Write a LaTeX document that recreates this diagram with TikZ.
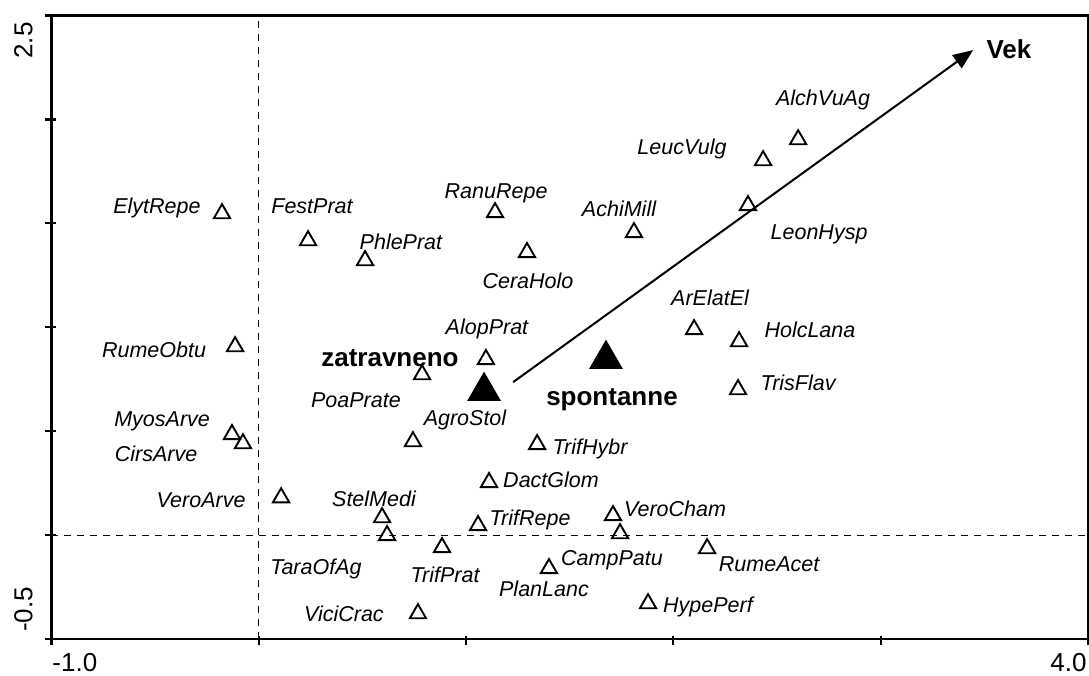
\documentclass[tikz,border=0pt]{standalone}
\usepackage{fontspec}
\setmainfont{Liberation Sans}
\usepackage{tikz}
\usetikzlibrary{shapes.geometric, arrows.meta}
\tikzstyle{vecarrow} = [line width=1pt,-{Triangle[length=10pt,width=8pt]}]

\begin{document}
\begin{tikzpicture}[
    x=103.65pt, y=103.9pt,
    spec/.style={regular polygon, regular polygon sides=3, draw, line width=0.95pt, inner sep=0pt, minimum size=9.4pt, yshift=-1.2pt},
    env/.style={regular polygon, regular polygon sides=3, fill=black, inner sep=0pt, minimum size=19.5pt, yshift=-2.5pt},
    lab/.style={font=\fontsize{10.75}{12}\selectfont\itshape, inner sep=0pt, text height=7.7pt, text depth=0pt},
    envlab/.style={font=\fontsize{13}{15}\selectfont\bfseries, inner sep=0pt, text height=9.3pt, text depth=0pt},
    axlab/.style={font=\fontsize{13}{15}\selectfont, inner sep=0pt},
    zeroline/.style={line width=0.5pt, dash pattern=on 3.5pt off 3pt}
  ]
  \useasboundingbox (-1.248,-0.674) rectangle (4.005,2.575);

  \draw[zeroline] (0,-0.5) -- (0,2.5);
  \draw[zeroline] (-1,0) -- (4,0);
  \draw[line width=1.1pt] (-1,-0.5) rectangle (4,2.5);
  \foreach \t in {-0.5,0,...,2.5} \draw[line width=1.1pt] (-1.03,\t) -- (-0.98,\t);
  \foreach \t in {-1,0,...,4} \draw[line width=1.1pt] (\t,-0.53) -- (\t,-0.485);

  \node[axlab, rotate=90, anchor=east] (y-top) at (-1.135,2.469) {2.5};
  \node[axlab, rotate=90, anchor=west] (y-bot) at (-1.135,-0.467) {-0.5};
  \node[axlab, anchor=west] (x-left) at (-0.997,-0.612) {-1.0};
  \node[axlab, anchor=east] (x-right) at (3.995,-0.612) {4.0};

  \node[spec] (ElytRepe) at (-0.177,1.559) {};
  \node[spec] (FestPrat) at (0.238,1.429) {};
  \node[spec] (PhlePrat) at (0.513,1.333) {};
  \node[spec] (RanuRepe) at (1.140,1.564) {};
  \node[spec] (AchiMill) at (1.810,1.468) {};
  \node[spec] (CeraHolo) at (1.294,1.372) {};
  \node[spec] (LeucVulg) at (2.433,1.814) {};
  \node[spec] (AlchVuAg) at (2.602,1.915) {};
  \node[spec] (LeonHysp) at (2.360,1.598) {};
  \node[spec] (ArElatEl) at (2.100,1.001) {};
  \node[spec] (HolcLana) at (2.317,0.943) {};
  \node[spec] (TrisFlav) at (2.312,0.712) {};
  \node[spec] (AlopPrat) at (1.096,0.857) {};
  \node[spec] (PoaPrate) at (0.788,0.784) {};
  \node[spec] (AgroStol) at (0.744,0.462) {};
  \node[spec] (RumeObtu) at (-0.114,0.919) {};
  \node[spec] (MyosArve) at (-0.129,0.496) {};
  \node[spec] (CirsArve) at (-0.076,0.452) {};
  \node[spec] (VeroArve) at (0.108,0.192) {};
  \node[spec] (StelMedi) at (0.595,0.096) {};
  \node[spec] (TaraOfAg) at (0.619,0.010) {};
  \node[spec] (TrifPrat) at (0.884,-0.048) {};
  \node[spec] (TrifRepe) at (1.058,0.058) {};
  \node[spec] (DactGlom) at (1.111,0.265) {};
  \node[spec] (PlanLanc) at (1.400,-0.149) {};
  \node[spec] (ViciCrac) at (0.768,-0.366) {};
  \node[spec] (VeroCham) at (1.709,0.106) {};
  \node[spec] (CampPatu) at (1.743,0.019) {};
  \node[spec] (RumeAcet) at (2.163,-0.053) {};
  \node[spec] (HypePerf) at (1.878,-0.318) {};
  \node[spec] (TrifHybr) at (1.343,0.448) {};

  \node[lab] (ElytRepe-l) at (-0.491,1.583) {ElytRepe};
  \node[lab] (FestPrat-l) at (0.257,1.583) {FestPrat};
  \node[lab] (PhlePrat-l) at (0.686,1.410) {PhlePrat};
  \node[lab] (RanuRepe-l) at (1.145,1.655) {RanuRepe};
  \node[lab] (AchiMill-l) at (1.738,1.569) {AchiMill};
  \node[lab] (CeraHolo-l) at (1.299,1.222) {CeraHolo};
  \node[lab] (LeucVulg-l) at (2.042,1.867) {LeucVulg};
  \node[lab] (AlchVuAg-l) at (2.722,2.103) {AlchVuAg};
  \node[lab] (LeonHysp-l) at (2.703,1.458) {LeonHysp};
  \node[lab] (ArElatEl-l) at (2.177,1.141) {ArElatEl};
  \node[lab] (HolcLana-l) at (2.659,0.987) {HolcLana};
  \node[lab] (TrisFlav-l) at (2.602,0.731) {TrisFlav};
  \node[lab] (AlopPrat-l) at (1.101,1.001) {AlopPrat};
  \node[lab] (PoaPrate-l) at (0.469,0.650) {PoaPrate};
  \node[lab] (AgroStol-l) at (0.995,0.563) {AgroStol};
  \node[lab] (RumeObtu-l) at (-0.505,0.890) {RumeObtu};
  \node[lab] (MyosArve-l) at (-0.466,0.558) {MyosArve};
  \node[lab] (CirsArve-l) at (-0.495,0.390) {CirsArve};
  \node[lab] (VeroArve-l) at (-0.278,0.168) {VeroArve};
  \node[lab] (StelMedi-l) at (0.556,0.173) {StelMedi};
  \node[lab] (TaraOfAg-l) at (0.276,-0.154) {TaraOfAg};
  \node[lab] (TrifPrat-l) at (0.899,-0.192) {TrifPrat};
  \node[lab] (TrifRepe-l) at (1.309,0.082) {TrifRepe};
  \node[lab] (DactGlom-l) at (1.410,0.265) {DactGlom};
  \node[lab] (CampPatu-l) at (1.704,-0.111) {CampPatu};
  \node[lab] (PlanLanc-l) at (1.376,-0.260) {PlanLanc};
  \node[lab] (ViciCrac-l) at (0.411,-0.380) {ViciCrac};
  \node[lab] (VeroCham-l) at (2.008,0.125) {VeroCham};
  \node[lab] (RumeAcet-l) at (2.462,-0.140) {RumeAcet};
  \node[lab] (HypePerf-l) at (2.167,-0.337) {HypePerf};
  \node[lab] (TrifHybr-l) at (1.598,0.423) {TrifHybr};

  \node[env] (zatr) at (1.087,0.717) {};
  \node[env] (spont) at (1.675,0.871) {};
  \node[envlab] (zatr-l) at (0.633,0.857) {zatravneno};
  \node[envlab] (spont-l) at (1.704,0.669) {spontanne};

  \coordinate (vek-from) at (1.227,0.736);
  \coordinate (vek-to) at (3.446,2.334);
  \draw[vecarrow] (vek-from) -- (vek-to);
  \node[envlab] (vek-l) at (3.619,2.339) {Vek};

\end{tikzpicture}
\end{document}
